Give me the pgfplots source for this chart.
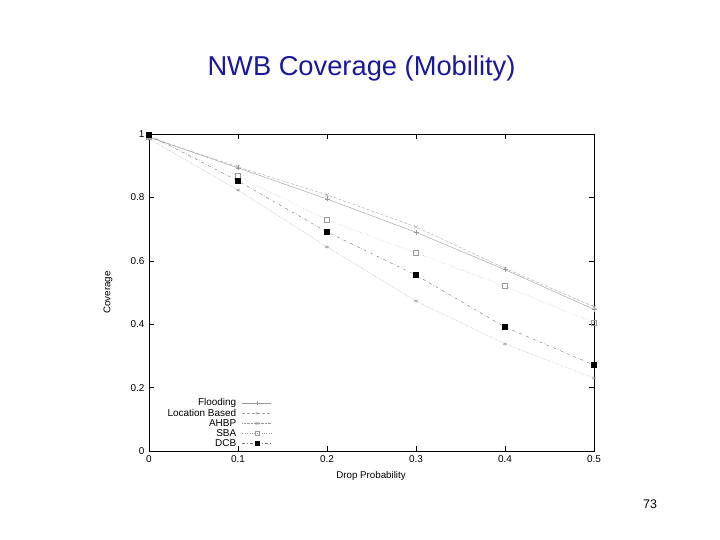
\documentclass[border=0pt]{standalone}
\usepackage{pgfplots}
\pgfplotsset{compat=1.18}
\usepackage{fontspec}
\setmainfont{Liberation Sans}
\definecolor{titleblue}{rgb}{0.10,0.10,0.60}
\begin{document}
\begin{tikzpicture}
\path[use as bounding box] (0,0) rectangle (720bp,540bp);
\node[anchor=base, font=\fontsize{27.4}{30}\selectfont, text=titleblue, inner sep=0pt] at (361.5bp,464bp) {NWB Coverage (Mobility)};
\node[anchor=base, font=\fontsize{12.5}{14}\selectfont, inner sep=0pt] at (650bp,32bp) {73};
\begin{axis}[
  at={(149bp,89bp)}, anchor=south west,
  scale only axis, width=445bp, height=317bp,
  xmin=0, xmax=0.5, ymin=0, ymax=1,
  xtick={0,0.1,0.2,0.3,0.4,0.5},
  ytick={0,0.2,0.4,0.6,0.8,1},
  xticklabels={0,0.1,0.2,0.3,0.4,0.5},
  yticklabels={0,0.2,0.4,0.6,0.8,1},
  /pgf/number format/assume math mode=true,
  tick align=inside, major tick length=5bp,
  tick style={black, thin},
  axis line style={black, thin},
  tick label style={font=\fontsize{10}{11}\selectfont},
  xticklabel style={yshift=-1bp},
  yticklabel style={xshift=-1bp},
  xlabel={Drop Probability},
  ylabel={Coverage},
  label style={font=\fontsize{9.8}{10}\selectfont},
  xlabel style={at={(axis description cs:0.499,-0.079)}, anchor=center},
  ylabel style={at={(axis description cs:-0.092,0.5)}, anchor=center},
  legend plot pos=right,
  legend cell align=right,
  legend style={at={(axis description cs:0.276,0.172)}, anchor=north east, draw=none, fill=none,
    font=\fontsize{10}{10}\selectfont, inner sep=0pt, row sep=-2.4pt},
  legend image code/.code={\path (0bp,0bp); \draw[mark repeat=2,mark phase=2, mark size=1.8bp] plot coordinates {(4bp,0bp)(18.5bp,0bp)(33bp,0bp)};},
]
\addplot[gray!80, thin, solid, mark=+, mark size=2.5bp, mark options={solid}] coordinates {
(0,0.99) (0.1,0.893) (0.2,0.795) (0.3,0.690) (0.4,0.572) (0.5,0.447)};
\addlegendentry{Flooding}
\addplot[gray!70, thin, densely dashed, mark=x, mark size=2.5bp, mark options={solid}] coordinates {
(0,0.99) (0.1,0.896) (0.2,0.808) (0.3,0.707) (0.4,0.576) (0.5,0.455)};
\addlegendentry{Location Based}
\addplot[gray!80, thin, densely dotted, mark=asterisk, mark size=2.3bp, mark options={solid}] coordinates {
(0,0.985) (0.1,0.823) (0.2,0.644) (0.3,0.473) (0.4,0.338) (0.5,0.230)};
\addlegendentry{AHBP}
\addplot[gray!80, thin, dotted, mark=square, mark size=2.5bp, mark options={solid}] coordinates {
(0,0.99) (0.1,0.867) (0.2,0.729) (0.3,0.625) (0.4,0.520) (0.5,0.404)};
\addlegendentry{SBA}
\addplot[gray!90!black, thin, dash dot, mark=square*, mark size=2.5bp, mark options={solid, fill=black, draw=black}] coordinates {
(0,0.997) (0.1,0.852) (0.2,0.691) (0.3,0.555) (0.4,0.391) (0.5,0.271)};
\addlegendentry{DCB}
\end{axis}
\end{tikzpicture}
\end{document}
